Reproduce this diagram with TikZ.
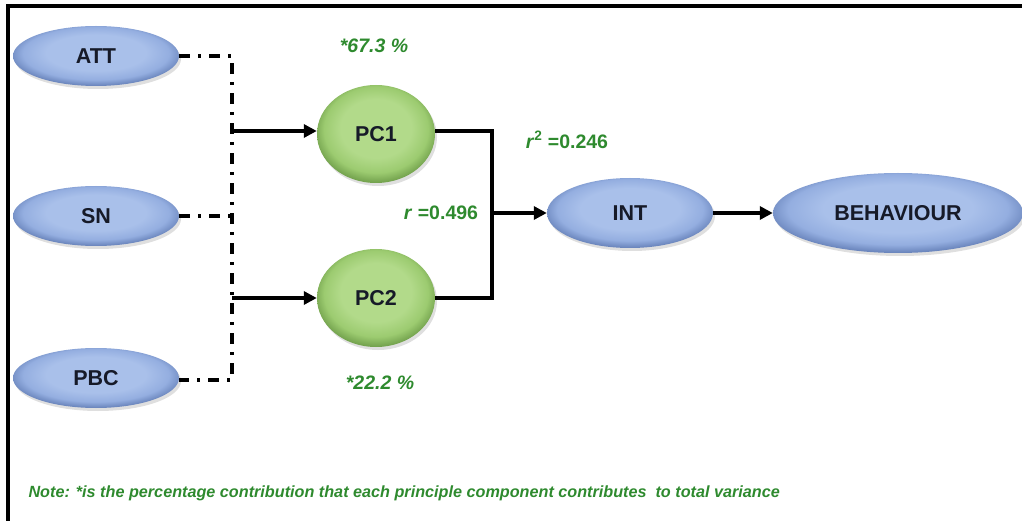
\documentclass[tikz,border=0pt]{standalone}
\usepackage{fontspec}
\setmainfont{Liberation Sans}
\usetikzlibrary{arrows.meta,shadows,shapes.geometric}

\definecolor{bluelite}{HTML}{A9C0EA}
\definecolor{bluemid}{HTML}{94AEE0}
\definecolor{bluedark}{HTML}{6580B8}
\definecolor{greenlite}{HTML}{B2DA8A}
\definecolor{greenmid}{HTML}{9CCB70}
\definecolor{greendark}{HTML}{6F9E4A}
\definecolor{labelgreen}{HTML}{2E8A2E}
\definecolor{inktext}{HTML}{161A28}

% oval fills: flat light centre, darker rim
\pgfdeclareradialshading{blueoval}{\pgfpoint{0bp}{4bp}}{%
  color(0bp)=(bluelite); color(15bp)=(bluelite); color(22bp)=(bluemid); color(27bp)=(bluedark); color(50bp)=(bluedark)}
\pgfdeclareradialshading{greenoval}{\pgfpoint{0bp}{4bp}}{%
  color(0bp)=(greenlite); color(15bp)=(greenlite); color(22bp)=(greenmid); color(27bp)=(greendark); color(50bp)=(greendark)}

\tikzset{
  construct/.style={ellipse, shading=blueoval, draw=none,
    font=\fontsize{21.5}{25}\selectfont\bfseries, text=inktext,
    drop shadow={shadow xshift=2pt, shadow yshift=-3pt, opacity=0.25}},
  component/.style={ellipse, shading=greenoval, draw=none,
    minimum width=118pt, minimum height=98pt,
    font=\fontsize{21.5}{25}\selectfont\bfseries, text=inktext,
    drop shadow={shadow xshift=2pt, shadow yshift=-3pt, opacity=0.25}},
  statlabel/.style={text=labelgreen, font=\fontsize{19.5}{23}\selectfont\bfseries},
  dashdot link/.style={line width=3.4pt, dash pattern=on 11pt off 8pt on 3pt off 8pt},
  solid link/.style={line width=3.2pt},
  arrow link/.style={line width=3.2pt, -{Triangle[length=13pt,width=13pt]}},
}

\begin{document}
\begin{tikzpicture}[x=1pt,y=-1pt]
\useasboundingbox (0,0) rectangle (1022,521);

% frame
\draw[line width=3.4pt] (8,521) -- (8,6) -- (1022,6);

% predictors
\node[construct, minimum width=166pt, minimum height=60pt] (att) at (96,56) {ATT};
\node[construct, minimum width=166pt, minimum height=60pt] (sn)  at (96,216) {SN};
\node[construct, minimum width=166pt, minimum height=60pt] (pbc) at (96,378) {PBC};

% principal components
\node[component] (pc1) at (376,134) {PC1};
\node[component] (pc2) at (376,298) {PC2};

% intention and behaviour
\node[construct, minimum width=166pt, minimum height=70pt] (int) at (630,213) {INT};
\node[construct, minimum width=250pt, minimum height=80pt] (beh) at (898,213) {BEHAVIOUR};

% bus joining the predictors
\coordinate (bustop) at (232,56);
\coordinate (busbot) at (232,380);
\coordinate (tap1) at (232,131);
\coordinate (tap2) at (232,298);
\draw[dashdot link] (att.east) -- (bustop) -- (busbot) -- (pbc.east |- busbot);
\draw[dashdot link] (sn.east) -- (232,216);

\draw[arrow link] (tap1) -- (pc1.west |- tap1);
\draw[arrow link] (tap2) -- (pc2.west |- tap2);

% components merged into INT
\coordinate (join) at (492,213);
\draw[solid link] (pc1.east |- 0,131) -- (492,131) -- (492,298) -- (pc2.east |- 0,298);
\draw[arrow link] (join) -- (int.west);
\draw[arrow link] (int.east) -- (beh.west);

% statistics
\node[statlabel] (v1) at (374,46) {\itshape *67.3 \%};
\node[statlabel] (v2) at (380,383) {\itshape *22.2 \%};
\node[statlabel] (rsq) at (567,140) {\textit{r}\textsuperscript{2} =0.246};
\node[statlabel] (rr) at (441,213) {\textit{r} =0.496};

\node[text=labelgreen, font=\fontsize{16.2}{19}\selectfont\bfseries\itshape, anchor=west] (note) at (25,493)
  {Note: *is the percentage contribution that each principle component contributes\ \ to total variance};
\end{tikzpicture}
\end{document}
